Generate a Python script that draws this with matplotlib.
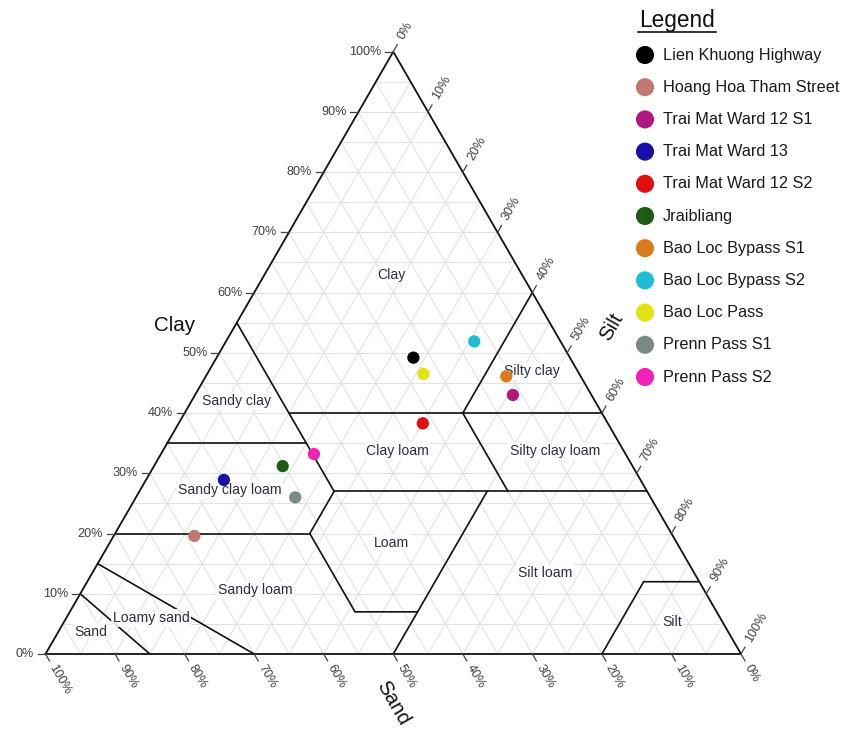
import numpy as np
import matplotlib
matplotlib.use("Agg")
import matplotlib.pyplot as plt

plt.rcParams['font.family'] = ['Liberation Sans', 'DejaVu Sans']

# ---- sample data (percent by mass) ----
sites = ["Lien Khuong Highway", "Hoang Hoa Tham Street", "Trai Mat Ward 12 S1",
         "Trai Mat Ward 13", "Trai Mat Ward 12 S2", "Jraibliang",
         "Bao Loc Bypass S1", "Bao Loc Bypass S2", "Bao Loc Pass",
         "Prenn Pass S1", "Prenn Pass S2"]
clay = [49.2, 19.6, 43.0, 28.9, 38.3, 31.2, 46.1, 51.9, 46.5, 26.0, 33.2]
silt = [28.3, 11.6, 45.7, 11.2, 35.1, 18.5, 43.2, 35.7, 31.1, 22.9, 22.0]
sand = [round(100 - c - s, 1) for c, s in zip(clay, silt)]
colors = ["#000000", "#c27870", "#b0177f", "#1a10a8", "#e01010", "#1e5a14",
          "#d97a1c", "#1fbcd6", "#e2e214", "#7a8a82", "#f020b8"]

# ---- USDA texture classes ----
class_names = ["Clay", "Sandy clay", "Silty clay", "Clay loam", "Silty clay loam",
               "Sandy clay loam", "Loam", "Silt loam", "Sandy loam", "Loamy sand",
               "Sand", "Silt"]
class_label_clay = [63.0, 42.0, 47.0, 33.7, 33.7, 27.2, 18.4, 13.5, 10.6, 6.0, 3.7, 5.3]
class_label_silt = [18.3, 6.4, 46.5, 33.8, 56.4, 12.9, 40.5, 65.1, 24.8, 12.2, 4.7, 87.4]

# class boundaries as polylines of (clay, silt)
boundaries = [
    [(55, 0), (40, 15), (35, 20), (27, 28)],
    [(40, 15), (40, 60)],
    [(35, 0), (35, 20)],
    [(27, 28), (27, 73)],
    [(60, 40), (40, 40), (27, 53)],
    [(27, 50), (0, 50)],
    [(27, 28), (20, 28), (7, 41), (7, 50)],
    [(20, 0), (20, 28)],
    [(15, 0), (0, 30)],
    [(10, 0), (0, 15)],
    [(0, 80), (12, 80), (12, 88)],
]

ticks = list(range(0, 101, 10))
grid_steps = list(range(5, 100, 5))

SQ3 = np.sqrt(3) / 2


def tern(c, s):
    """(clay %, silt %) -> cartesian coordinates in the unit triangle."""
    c = np.asarray(c, float) / 100.0
    s = np.asarray(s, float) / 100.0
    return s + c / 2.0, c * SQ3


W_PX = 695.5
X0_PX = 45.5
Y0_PX = 654.0
FW, FH = 844, 729

fig = plt.figure(figsize=(FW / 100, FH / 100), dpi=100)
ax = fig.add_axes([0, 0, 1, 1])
ax.set_xlim(-X0_PX / W_PX, (FW - X0_PX) / W_PX)
ax.set_ylim((Y0_PX - FH) / W_PX, Y0_PX / W_PX)
ax.axis("off")

px = 1.0 / W_PX  # one pixel in data units

# grid every 5 %
grid_kw = dict(color="#e2e2e2", lw=0.8, zorder=1)
for v in grid_steps:
    x, y = tern([v, v], [0, 100 - v])
    ax.plot(x, y, **grid_kw)
    x, y = tern([0, 100 - v], [v, v])
    ax.plot(x, y, **grid_kw)
    x, y = tern([0, 100 - v], [100 - v, 0])
    ax.plot(x, y, **grid_kw)

# class boundaries
for line in boundaries:
    cc, ss = zip(*line)
    x, y = tern(cc, ss)
    ax.plot(x, y, color="#111111", lw=1.2, zorder=3, solid_capstyle="round")

# outer triangle
x, y = tern([0, 0, 100, 0], [0, 100, 0, 0])
ax.plot(x, y, color="#111111", lw=1.3, zorder=4, solid_joinstyle="miter")

# ticks and tick labels
tick_len = 8 * px
tick_kw = dict(color="#444444", lw=0.9, zorder=4)
lab_kw = dict(fontsize=9.1, color="#404040")
d60 = np.array([0.5, SQ3])
dm60 = np.array([0.5, -SQ3])
for v in ticks:
    # clay (left edge)
    x, y = tern(v, 0)
    ax.plot([x, x - tick_len], [y, y], **tick_kw)
    ax.text(x - tick_len - 4 * px, y, f"{v}%", ha="right", va="center", **lab_kw)
    # silt (right edge)
    x, y = tern(100 - v, v)
    ex, ey = x + d60[0] * tick_len, y + d60[1] * tick_len
    ax.plot([x, ex], [y, ey], **tick_kw)
    g = 7 * px
    ax.text(ex + d60[0] * g, ey + d60[1] * g, f"{v}%", rotation=60,
            rotation_mode="anchor", ha="left", va="center", **lab_kw)
    # sand (bottom edge)
    x, y = tern(0, 100 - v)
    ex, ey = x + dm60[0] * tick_len, y + dm60[1] * tick_len
    ax.plot([x, ex], [y, ey], **tick_kw)
    g = 5 * px
    ax.text(ex + dm60[0] * g, ey + dm60[1] * g, f"{v}%", rotation=-60,
            rotation_mode="anchor", ha="left", va="center", **lab_kw)

# axis titles
title_kw = dict(fontsize=14.8, color="#111111", ha="center", va="center")
ax.text(*tern(54.6, -8.7), "Clay", **title_kw)
ax.text(*tern(54.3, 54.2), "Silt", rotation=60, **title_kw)
ax.text(*tern(-8.1, 54.0), "Sand", rotation=-60, **title_kw)

# class labels
for name, c, s in zip(class_names, class_label_clay, class_label_silt):
    ax.text(*tern(c, s), name, fontsize=10.1, color="#2e2e40", ha="center",
            va="center", zorder=5,
            bbox=dict(boxstyle="square,pad=0.12", fc="white", ec="none", alpha=0.85))

# samples
xs, ys = tern(clay, silt)
ax.scatter(xs, ys, s=78, c=colors, edgecolors="none", zorder=6)

# legend panel
lax = fig.add_axes([0, 0, 1, 1])
lax.set_xlim(0, FW)
lax.set_ylim(FH, 0)
lax.axis("off")
lax.patch.set_alpha(0)
lax.text(677, 20, "Legend", fontsize=16.3, color="#111111", ha="center", va="center")
lax.plot([638, 716], [31.5, 31.5], color="#111111", lw=1.2)
row0, step = 55.0, 32.2
rows = row0 + step * np.arange(len(sites))
lax.scatter(np.full(len(sites), 645.0), rows, s=170, c=colors, edgecolors="none")
for name, yy in zip(sites, rows):
    lax.text(663, yy, name, fontsize=11.7, color="#1a1a1a", ha="left", va="center")

fig.savefig("out.png", dpi=100)
